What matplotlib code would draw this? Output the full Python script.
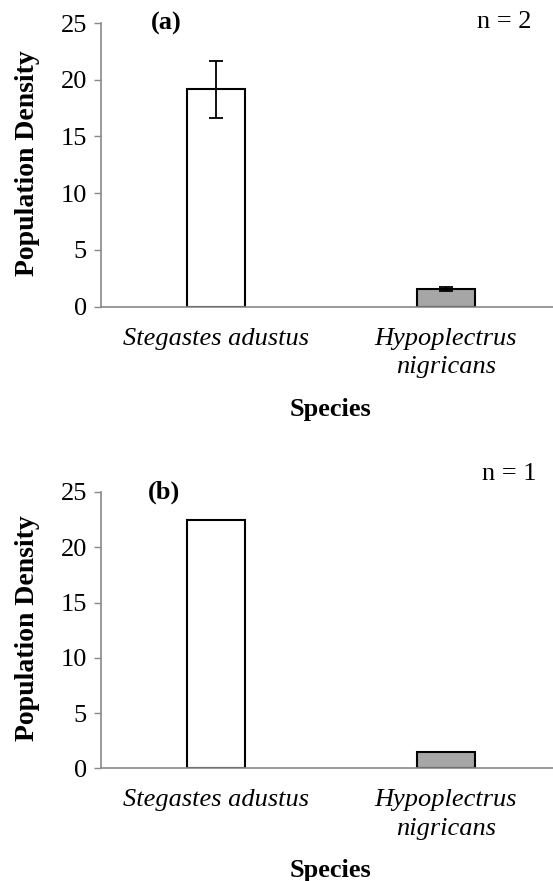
import matplotlib
matplotlib.use("Agg")
import matplotlib.pyplot as plt
import numpy as np

# mean population density per species, two survey panels
species = ["Stegastes adustus", "Hypoplectrus\nnigricans"]
density_a = [19.15, 1.55]
err_a = [2.5, 0.2]
density_b = [22.5, 1.45]
bar_colors = ["white", "#a6a6a6"]
yticks = [0, 5, 10, 15, 20, 25]

AXIS_GRAY = "#898989"
FS = 19

plt.rcParams['font.family'] = ['Liberation Serif', 'DejaVu Serif']

W, H = 553, 881
fig = plt.figure(figsize=(W / 100, H / 100), dpi=100)


def px_axes(left, right, top, bottom):
    # axes rectangle given in pixel coordinates of the figure
    return [left / W, 1 - bottom / H, (right - left) / W, (bottom - top) / H]


def draw_panel(ax, values, errs=None):
    x = np.arange(len(species))
    ax.bar(x, values, width=0.252, color=bar_colors, edgecolor="black",
           linewidth=1.5, zorder=2)
    if errs is not None:
        ax.errorbar(x, values, yerr=errs, fmt="none", ecolor="black",
                    elinewidth=1.3, capsize=4.7, capthick=1.3, zorder=3)
    ax.set_xlim(-0.502, 1.467)
    ax.set_ylim(0, 25)
    ax.set_yticks(yticks)
    ax.set_xticks(x)
    ax.set_xticklabels(species, fontstyle="italic", fontsize=FS, linespacing=1.4)
    ax.tick_params(axis="y", labelsize=FS, length=5, width=1, color=AXIS_GRAY, pad=5)
    ax.tick_params(axis="x", length=0, pad=15)
    for side in ["top", "right"]:
        ax.spines[side].set_visible(False)
    for side in ["left", "bottom"]:
        ax.spines[side].set_color(AXIS_GRAY)
        ax.spines[side].set_linewidth(1.2)


ax_a = fig.add_axes(px_axes(100.7, 553, 23, 306.7))
draw_panel(ax_a, density_a, err_a)
ax_a.set_xlabel("Species", fontsize=FS, fontweight="bold")
ax_a.xaxis.set_label_coords(0.509, -0.322)

ax_b = fig.add_axes(px_axes(100.7, 553, 492, 768.3))
draw_panel(ax_b, density_b)
ax_b.set_xlabel("Species", fontsize=FS, fontweight="bold")
ax_b.xaxis.set_label_coords(0.509, -0.330)

# rotated y labels, panel letters and sample sizes
fig.text(28 / W, 1 - 163 / H, "Population Density", rotation=90, fontsize=20,
         fontweight="bold", ha="center", va="center")
fig.text(28 / W, 1 - 628 / H, "Population Density", rotation=90, fontsize=20,
         fontweight="bold", ha="center", va="center")
fig.text(166 / W, 1 - 23 / H, "(a)", fontsize=FS, fontweight="bold", ha="center", va="center")
fig.text(504 / W, 1 - 22 / H, "n = 2", fontsize=FS, ha="center", va="center")
fig.text(164 / W, 1 - 492 / H, "(b)", fontsize=FS, fontweight="bold", ha="center", va="center")
fig.text(509 / W, 1 - 474 / H, "n = 1", fontsize=FS, ha="center", va="center")

fig.savefig("out.png", dpi=100)
